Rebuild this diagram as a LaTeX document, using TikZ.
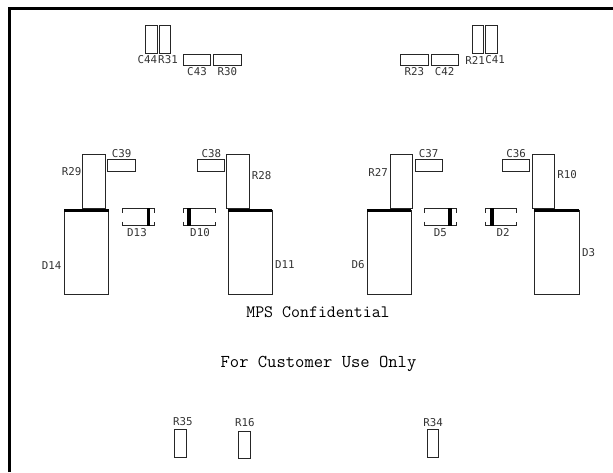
\documentclass[tikz,border=0pt]{standalone}
\usepackage{fontspec}
\setmainfont{DejaVu Sans Mono}
\setmonofont{Latin Modern Mono}
\tikzset{
partbox/.style={draw=black!85,line width=0.7pt},
barfill/.style={fill=black,draw=none},
partlabel/.style={inner sep=0pt,text=black!80,font=\fontsize{10.8}{12}\selectfont},
bigtext/.style={inner sep=0pt,font=\ttfamily\fontsize{#1}{20}\selectfont},
}
\begin{document}
\begin{tikzpicture}[x=1pt,y=-1pt]
\pgfmathsetmacro{\ktop}{210.3}
\pgfmathsetmacro{\kbot}{294.3}
\useasboundingbox (0,0) rectangle (613,472);
% board outline
\draw[line width=3pt] (9,472)--(9,8)--(613,8);
% small parts
\foreach \xa/\ya/\xb/\yb in {
145.7/25.3/157/53,159.3/25.3/170.7/53,183.3/54.3/210.7/65.7,213.7/54.3/241.3/65.7,
400.3/54.3/428/65.7,431.3/54.3/458.7/65.7,472/25.3/483.3/53,485.7/25.3/497.3/53,
82.7/154.3/105/208.3,107.3/159.3/135/171,197/159.3/224.3/171,226.7/154.3/249.3/208.3,
390.3/154.3/412.7/208.3,415/159.3/442.7/171,502/159.3/529.7/171,532/154.3/554.3/208.3,
174.3/429.3/186/457,238.7/431.3/250/458.7,427/429.3/438.7/457}
{\draw[partbox](\xa,\ya)rectangle(\xb,\yb);};
% big diodes
\foreach \xa/\xb in {64.7/108.7,228.3/272,367.3/411,534.3/579}{
\draw[partbox](\xa,\ktop)rectangle(\xb,\kbot);
\fill[barfill](\xa-0.4,\ktop-1.8)rectangle(\xb+0.4,\ktop+1.2);
};
% small diodes
\foreach \xa/\xb/\ba/\bb in {122.3/154.3/146.7/150,183.3/215/187.3/191.3,424.3/456.3/448.3/452.3,485.7/516.7/489.7/494}{
\draw[partbox](\xa,212.5)--(\xa,208.3)--(\xb,208.3)--(\xb,212.5);
\draw[partbox](\xa,221.5)--(\xa,225.7)--(\xb,225.7)--(\xb,221.5);
\fill[barfill](\ba,208.3)rectangle(\bb,225.7);
};
% part labels
\foreach \n/\x/\y in {
C44/147.3/60,R31/168/60,C43/197/72,R30/227.3/72,R23/414.3/72,C42/444.7/72,R21/475/60,C41/495/60,
R29/71.7/172,C39/121.7/153.7,C38/211.3/153.7,R28/261.7/175.7,
R27/378/172,C37/428.7/153.7,C36/516/153.7,R10/567/175,
D13/137/232.3,D10/200/232.3,D5/440.3/232.3,D2/503/232.3,
D14/51.7/265.7,D11/284.8/264.7,D6/358/264.3,D3/588.7/253,
R35/182.8/421.3,R16/244.8/422.7,R34/433/422.7}
{\node[partlabel](\n)at(\x,\y){\n};};
\node[bigtext=17.4](mps)at(318,312){MPS Confidential};
\node[bigtext=18.1,anchor=base](cust)at(318.5,367){For Customer Use Only};
\end{tikzpicture}
\end{document}
